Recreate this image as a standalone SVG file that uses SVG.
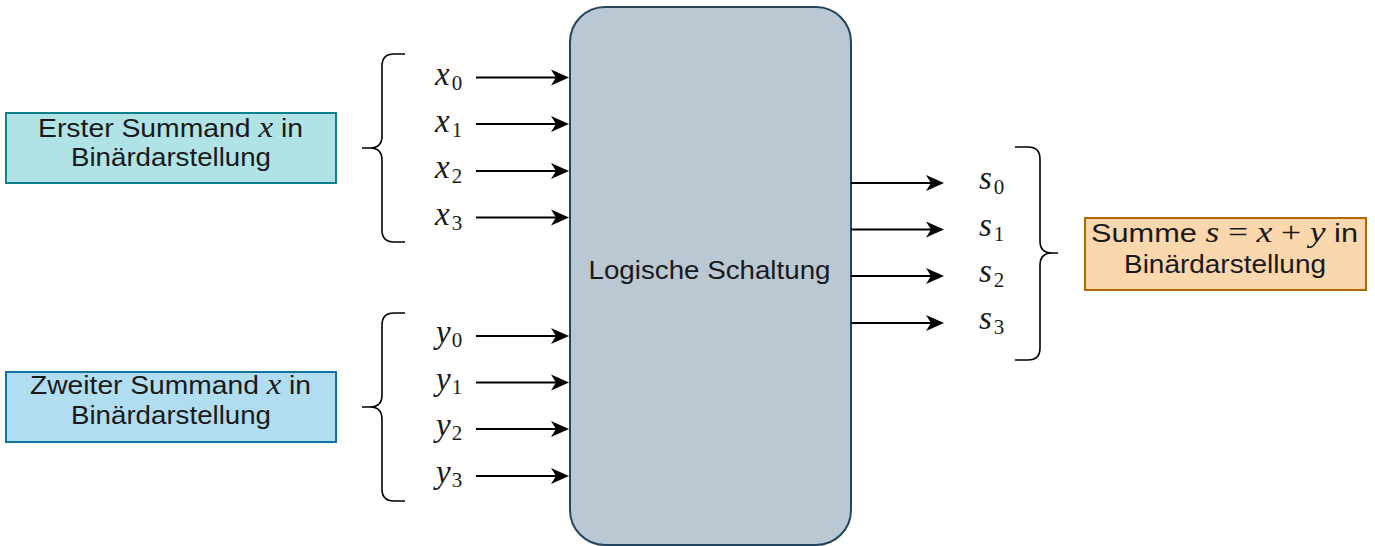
<svg xmlns="http://www.w3.org/2000/svg" xmlns:xlink="http://www.w3.org/1999/xlink" width="1375" height="546" viewBox="0 0 1375 546">
<style>
.lbl{font-family:"Liberation Sans",Arial,sans-serif;font-size:25px;fill:#1a1a1a;}
.m{font-family:"Liberation Serif","Times New Roman",serif;font-style:italic;font-size:33px;fill:#1a1a1a;}
.sub{font-family:"Liberation Serif","Times New Roman",serif;font-size:21px;fill:#1a1a1a;}
.mi{font-family:"Liberation Serif","Times New Roman",serif;font-style:italic;font-size:29px;}
.mn{font-family:"Liberation Serif","Times New Roman",serif;font-size:29px;}
.conn{stroke:#000;stroke-width:2.2;fill:none;}
.brace{stroke:#000;stroke-width:1.6;fill:none;}
</style>
<defs>
<path id="ah" d="M-18,-8 L0,0 L-18,8 L-13,0 Z" fill="#000"/>
</defs>
<rect width="1375" height="546" fill="#fff"/>

<g id="logic">
<rect x="570" y="7" width="281" height="538" rx="35" ry="35" fill="#bac8d3" stroke="#23445d" stroke-width="2"/>
<text class="lbl" x="709.5" y="279" text-anchor="middle" textLength="242" lengthAdjust="spacingAndGlyphs">Logische Schaltung</text>
</g>

<g id="erster">
<rect x="6" y="113" width="330" height="70" fill="#b0e3e6" stroke="#0e8088" stroke-width="2"/>
<text class="lbl" x="38" y="137" textLength="265" lengthAdjust="spacingAndGlyphs">Erster Summand <tspan class="mi">x</tspan> in</text>
<text class="lbl" x="171" y="166" text-anchor="middle" textLength="200" lengthAdjust="spacingAndGlyphs">Binärdarstellung</text>
</g>

<g id="zweiter">
<rect x="6" y="372" width="330" height="70" fill="#b1ddf0" stroke="#10739e" stroke-width="2"/>
<text class="lbl" x="30" y="394" textLength="281" lengthAdjust="spacingAndGlyphs">Zweiter Summand <tspan class="mi">x</tspan> in</text>
<text class="lbl" x="171" y="424" text-anchor="middle" textLength="200" lengthAdjust="spacingAndGlyphs">Binärdarstellung</text>
</g>

<g id="summe">
<rect x="1085" y="218" width="281" height="72" fill="#fad7ac" stroke="#b46504" stroke-width="2"/>
<text class="lbl" x="1091" y="242" textLength="267" lengthAdjust="spacingAndGlyphs">Summe <tspan class="mi">s</tspan> <tspan class="mn">=</tspan> <tspan class="mi">x</tspan> <tspan class="mn">+</tspan> <tspan class="mi">y</tspan> in</text>
<text class="lbl" x="1225" y="273" text-anchor="middle" textLength="202" lengthAdjust="spacingAndGlyphs">Binärdarstellung</text>
</g>

<g id="x-labels">
<text x="435" y="85"><tspan class="m">x</tspan><tspan class="sub" dx="2" dy="5">0</tspan></text>
<text x="435" y="132"><tspan class="m">x</tspan><tspan class="sub" dx="2" dy="5">1</tspan></text>
<text x="435" y="178"><tspan class="m">x</tspan><tspan class="sub" dx="2" dy="5">2</tspan></text>
<text x="435" y="225"><tspan class="m">x</tspan><tspan class="sub" dx="2" dy="5">3</tspan></text>
</g>

<g id="y-labels">
<text x="436" y="343"><tspan class="m">y</tspan><tspan class="sub" dx="1" dy="4">0</tspan></text>
<text x="436" y="390"><tspan class="m">y</tspan><tspan class="sub" dx="1" dy="4">1</tspan></text>
<text x="436" y="436"><tspan class="m">y</tspan><tspan class="sub" dx="1" dy="4">2</tspan></text>
<text x="436" y="483"><tspan class="m">y</tspan><tspan class="sub" dx="1" dy="4">3</tspan></text>
</g>

<g id="s-labels">
<text x="979" y="189"><tspan class="m">s</tspan><tspan class="sub" dx="2" dy="5">0</tspan></text>
<text x="979" y="236"><tspan class="m">s</tspan><tspan class="sub" dx="2" dy="5">1</tspan></text>
<text x="979" y="282"><tspan class="m">s</tspan><tspan class="sub" dx="2" dy="5">2</tspan></text>
<text x="979" y="329"><tspan class="m">s</tspan><tspan class="sub" dx="2" dy="5">3</tspan></text>
</g>

<g id="braces">
<path class="brace" d="M405,54 L394,54 Q382,54 382,66 L382,136 Q382,148 370,148 L362,148 M370,148 Q382,148 382,160 L382,230 Q382,242 394,242 L405,242"/>
<path class="brace" d="M405,313 L394,313 Q382,313 382,325 L382,395 Q382,407 370,407 L362,407 M370,407 Q382,407 382,419 L382,489 Q382,501 394,501 L405,501"/>
<path class="brace" d="M1015,147 L1028,147 Q1040,147 1040,159 L1040,241 Q1040,253 1052,253 L1058,253 M1052,253 Q1040,253 1040,265 L1040,348 Q1040,360 1028,360 L1015,360"/>
</g>

<g id="connectors">
<line class="conn" x1="476" y1="77.5" x2="557" y2="77.5"/><use xlink:href="#ah" href="#ah" x="569" y="77.5"/>
<line class="conn" x1="476" y1="124" x2="557" y2="124"/><use xlink:href="#ah" href="#ah" x="569" y="124"/>
<line class="conn" x1="476" y1="171" x2="557" y2="171"/><use xlink:href="#ah" href="#ah" x="569" y="171"/>
<line class="conn" x1="476" y1="217.5" x2="557" y2="217.5"/><use xlink:href="#ah" href="#ah" x="569" y="217.5"/>
<line class="conn" x1="476" y1="336" x2="557" y2="336"/><use xlink:href="#ah" href="#ah" x="569" y="336"/>
<line class="conn" x1="476" y1="382.5" x2="557" y2="382.5"/><use xlink:href="#ah" href="#ah" x="569" y="382.5"/>
<line class="conn" x1="476" y1="429" x2="557" y2="429"/><use xlink:href="#ah" href="#ah" x="569" y="429"/>
<line class="conn" x1="476" y1="476" x2="557" y2="476"/><use xlink:href="#ah" href="#ah" x="569" y="476"/>
<line class="conn" x1="851" y1="183" x2="932" y2="183"/><use xlink:href="#ah" href="#ah" x="944" y="183"/>
<line class="conn" x1="851" y1="229.5" x2="932" y2="229.5"/><use xlink:href="#ah" href="#ah" x="944" y="229.5"/>
<line class="conn" x1="851" y1="276" x2="932" y2="276"/><use xlink:href="#ah" href="#ah" x="944" y="276"/>
<line class="conn" x1="851" y1="323" x2="932" y2="323"/><use xlink:href="#ah" href="#ah" x="944" y="323"/>
</g>
</svg>
